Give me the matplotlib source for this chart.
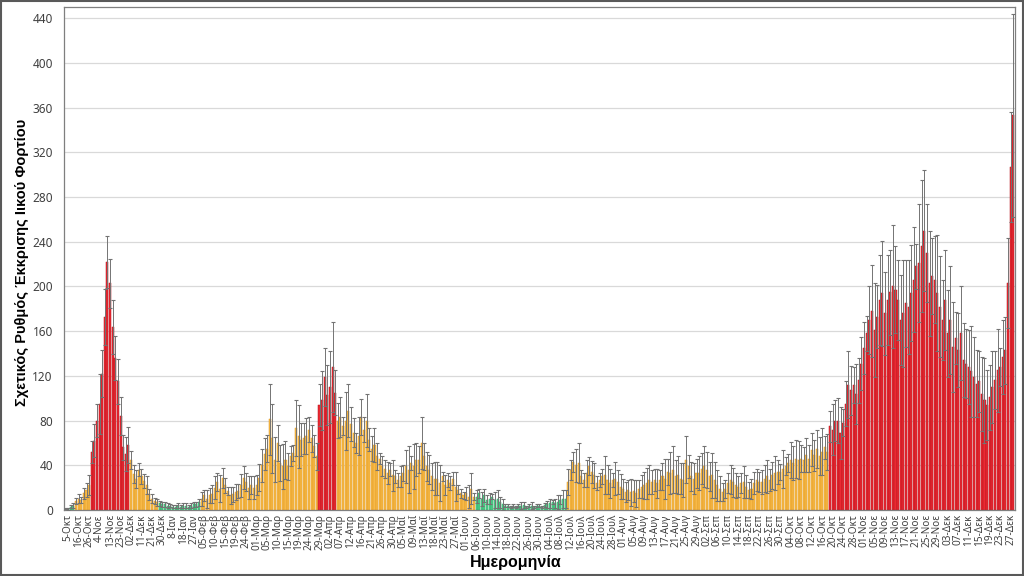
import matplotlib
matplotlib.use("Agg")
import matplotlib.pyplot as plt
from matplotlib.patches import Rectangle
import numpy as np

plt.rcParams['font.family'] = ['Noto Sans', 'DejaVu Sans']

# ---------------- data ----------------
tick_labels = [
    "5-Οκτ", "16-Οκτ", "26-Οκτ", "4-Νοε", "13-Νοε", "23-Νοε", "02-Δεκ", "11-Δεκ", "21-Δεκ", "30-Δεκ",
    "8-Ιαν", "18-Ιαν", "27-Ιαν", "05-Φεβ", "10-Φεβ", "15-Φεβ", "19-Φεβ", "24-Φεβ", "01-Μαρ", "05-Μαρ",
    "10-Μαρ", "15-Μαρ", "19-Μαρ", "24-Μαρ", "29-Μαρ", "02-Απρ", "07-Απρ", "12-Απρ", "16-Απρ", "21-Απρ",
    "26-Απρ", "30-Απρ", "05-Μαΐ", "09-Μαΐ", "13-Μαΐ", "18-Μαΐ", "23-Μαΐ", "27-Μαΐ", "01-Ιουν", "06-Ιουν",
    "10-Ιουν", "14-Ιουν", "18-Ιουν", "22-Ιουν", "26-Ιουν", "30-Ιουν", "04-Ιουλ", "08-Ιουλ", "12-Ιουλ", "16-Ιουλ",
    "20-Ιουλ", "24-Ιουλ", "28-Ιουλ", "01-Αυγ", "05-Αυγ", "09-Αυγ", "13-Αυγ", "17-Αυγ", "21-Αυγ", "25-Αυγ",
    "29-Αυγ", "02-Σεπ", "06-Σεπ", "10-Σεπ", "14-Σεπ", "18-Σεπ", "22-Σεπ", "26-Σεπ", "30-Σεπ", "04-Οκτ",
    "08-Οκτ", "12-Οκτ", "16-Οκτ", "20-Οκτ", "24-Οκτ", "28-Οκτ", "01-Νοε", "05-Νοε", "09-Νοε", "13-Νοε",
    "17-Νοε", "21-Νοε", "25-Νοε", "29-Νοε", "03-Δεκ", "07-Δεκ", "11-Δεκ", "15-Δεκ", "19-Δεκ", "23-Δεκ",
    "27-Δεκ",
]

# relative viral load shedding rate, one value per sample (bars 0..362)
rate = [
    # Oct 2020 - Jan 2021
    1, 1, 3, 4, 8, 10, 9, 15, 18, 22,
    52, 62, 80, 95, 122, 173, 222, 203, 164, 136, 115, 84, 56, 50, 58,
    45, 32, 28, 36, 30, 26, 22, 14, 10, 8, 7,
    6, 5, 5, 4, 4, 3, 3, 4, 3, 4, 4, 3, 4, 5, 5, 7,
    # Feb - Mar 2021
    10, 13, 10, 13, 14, 20, 25, 19, 29, 22, 17, 13, 14, 16, 17, 22, 29, 25, 20, 22,
    20, 22, 29, 40, 50, 55, 81, 64, 45, 60, 42, 39, 45, 39, 48, 51, 73, 66, 63, 64,
    66, 72, 64, 57, 48,
    94, 98, 119, 103, 110, 128, 105,
    # Apr - Jun 2021
    80, 83, 75, 80, 89, 77, 69, 60, 66, 83, 72, 80, 63, 55, 58, 48, 46, 39, 37, 33,
    36, 31, 30, 27, 30, 33, 39, 36, 42, 39, 45, 45, 60, 48, 39, 36, 30, 28, 28, 24,
    30, 22, 27, 24, 28, 21, 18, 15, 13, 15, 12, 19, 12,
    12, 15, 10, 13, 9, 10, 12, 9, 10, 7, 5, 4, 4, 3, 4, 3, 4, 4, 4.5, 3,
    4, 4, 3, 4, 4, 3, 4.5, 5, 6, 7, 6, 7, 9, 10, 10,
    # Jul - Oct 2021
    25, 36, 43, 40, 42, 30, 27, 33, 39, 34, 31, 24, 27, 30, 31, 27, 24, 27, 28, 25,
    21, 19, 16, 18, 16, 17, 15, 19, 21, 22, 24, 27, 25, 27, 24, 27, 30, 28, 34, 33,
    36, 30, 31, 28, 27, 45, 39, 30, 28, 33, 33, 37, 39, 36, 30, 31, 27, 22, 19, 16,
    19, 24, 27, 25, 22, 21, 24, 25, 21, 18, 19, 24, 27, 25, 25, 28, 30, 27, 31, 33,
    34, 34, 37, 39, 42, 45, 42, 46, 45, 46, 45, 49, 46, 54, 49, 55, 48, 52, 56, 52,
    # Oct - Dec 2021
    75, 72, 80, 80, 69, 78, 95, 112, 107, 112, 104, 116, 131, 145, 158, 170, 178, 161, 173, 188,
    194, 176, 188, 195, 200, 197, 188, 170, 176, 185, 182, 194, 206, 218, 221, 236, 250, 230, 203, 209,
    206, 194, 182, 170, 188, 158, 170, 146, 154, 143, 158, 134, 131, 128, 124, 119, 113, 115, 104, 98,
    94, 101, 110, 116, 125, 128, 137, 143, 203, 307, 353,
]

# error (half-width of the interval), same order
err = [
    0.5, 0.8, 1.5, 2, 3, 4, 3, 5, 6, 9,
    10, 15, 15, 27, 21, 25, 23, 22, 24, 20, 20, 17, 11, 15, 16,
    8, 8, 8, 6, 7, 6, 8, 5, 4, 3, 3,
    2, 2, 2, 2, 1.5, 1.5, 1.5, 2, 1.5, 2, 2, 1.5, 2, 2, 2, 3,
    6, 5, 8, 7, 8, 10, 8, 12, 9, 7, 4, 8, 7, 7, 6, 10, 10, 8, 10, 8,
    10, 9, 12, 15, 14, 12, 32, 31, 20, 16, 16, 20, 17, 12, 9, 7, 25, 28, 15, 14,
    16, 11, 12, 10, 12,
    19, 26, 26, 27, 32, 40, 20,
    16, 18, 8, 26, 24, 15, 13, 9, 17, 16, 11, 24, 10, 11, 15, 12, 5, 9, 8, 10,
    6, 14, 6, 6, 9, 7, 15, 21, 6, 20, 15, 12, 23, 12, 13, 13, 12, 15, 15, 16,
    4, 9, 6, 6, 6, 13, 4, 4, 3, 6, 10, 14, 3,
    6, 4, 6, 6, 4, 5, 2, 7, 8, 5, 5, 1, 1, 1, 1, 1, 1, 3, 3, 1,
    1, 3, 1, 1, 1, 1, 1.5, 3, 4, 2, 4, 6, 4, 8, 8,
    12, 9, 9, 15, 18, 6, 6, 12, 8, 10, 11, 6, 6, 7, 17, 13, 13, 6, 15, 11,
    11, 9, 9, 9, 12, 10, 12, 8, 10, 12, 14, 13, 11, 10, 13, 9, 12, 18, 12, 19,
    21, 15, 17, 14, 15, 21, 10, 13, 14, 13, 15, 14, 18, 16, 13, 20, 16, 14, 11, 8,
    8, 9, 13, 13, 11, 9, 9, 14, 10, 7, 9, 10, 10, 9, 11, 12, 15, 10, 12, 15,
    11, 7, 17, 8, 8, 16, 15, 17, 17, 12, 11, 15, 12, 15, 14, 17, 17, 21, 10, 16,
    14, 23, 18, 20, 23, 12, 20, 30, 22, 16, 27, 20, 24, 23, 16, 30, 41, 42, 28, 40,
    47, 37, 40, 38, 55, 39, 36, 40, 48, 39, 42, 43, 47, 20, 53, 59, 54, 44, 47, 34,
    39, 52, 45, 36, 45, 39, 48, 40, 23, 33, 42, 33, 31, 33, 41, 36, 30, 27, 33, 38,
    31, 29, 32, 26, 37, 17, 33, 30, 40, 49, 91,
]

# colour level runs (G = low, O = moderate, R = high), consecutive bars
level_runs = [("G", 4), ("O", 6), ("R", 15), ("O", 11), ("G", 16), ("O", 45), ("R", 7),
              ("O", 53), ("G", 35), ("O", 100), ("R", 71)]

palette = {"G": "#4fd08a", "O": "#f7b948", "R": "#ea2a33"}
edge_palette = {"G": "#2fa866", "O": "#e29a22", "R": "#b5121b"}

# ---------------- plot ----------------
levels = [lv for lv, n in level_runs for _ in range(n)]
x = np.arange(len(rate))
rate_a = np.array(rate, dtype=float)
err_a = np.array(err, dtype=float)
lower = np.minimum(err_a, rate_a)

fig = plt.figure(figsize=(10.24, 5.76), dpi=100)
ax = fig.add_axes([64 / 1024, 1 - 510 / 576, (1015 - 64) / 1024, (510 - 7) / 576])

ax.set_axisbelow(True)
ax.yaxis.grid(True, color="#d9d9d9", linewidth=0.9)

ax.bar(x, rate_a, width=0.78,
       color=[palette[l] for l in levels],
       edgecolor=[edge_palette[l] for l in levels], linewidth=0.35, zorder=2)
ax.errorbar(x, rate_a, yerr=[lower, err_a], fmt="none", ecolor="#737373",
            elinewidth=0.7, capsize=1.6, capthick=0.8, zorder=3)

ax.set_xlim(-0.6, len(rate) - 0.35)
ax.set_ylim(0, 450)
ax.set_yticks(np.arange(0, 441, 40))
ax.tick_params(axis="y", length=0, labelsize=8.5, labelcolor="#404040", pad=8)
tick_pos = [1 + 4 * k for k in range(len(tick_labels))]
ax.set_xticks(tick_pos)
ax.set_xticklabels(tick_labels, rotation=90, fontsize=7.2, color="#404040")
ax.tick_params(axis="x", length=0, pad=3)

for s in ax.spines.values():
    s.set_color("#7f7f7f")
    s.set_linewidth(0.9)

title_font = ['Liberation Sans', 'DejaVu Sans']
fig.text(22 / 1024, 1 - 262 / 576, "Σχετικός Ρυθμός Έκκρισης Ιικού Φορτίου",
         rotation=90, ha="center", va="center", fontsize=10.5, fontweight="bold",
         family=title_font, color="#000000")
fig.text(516 / 1024, 1 - 563 / 576, "Ημερομηνία", ha="center", va="center",
         fontsize=11.5, fontweight="bold", family=title_font, color="#000000")

fig.patches.append(Rectangle((0.001, 0.002), 0.998, 0.996, transform=fig.transFigure,
                             fill=False, edgecolor="#595959", linewidth=1.5))

fig.savefig("out.png", dpi=100, facecolor="white")
